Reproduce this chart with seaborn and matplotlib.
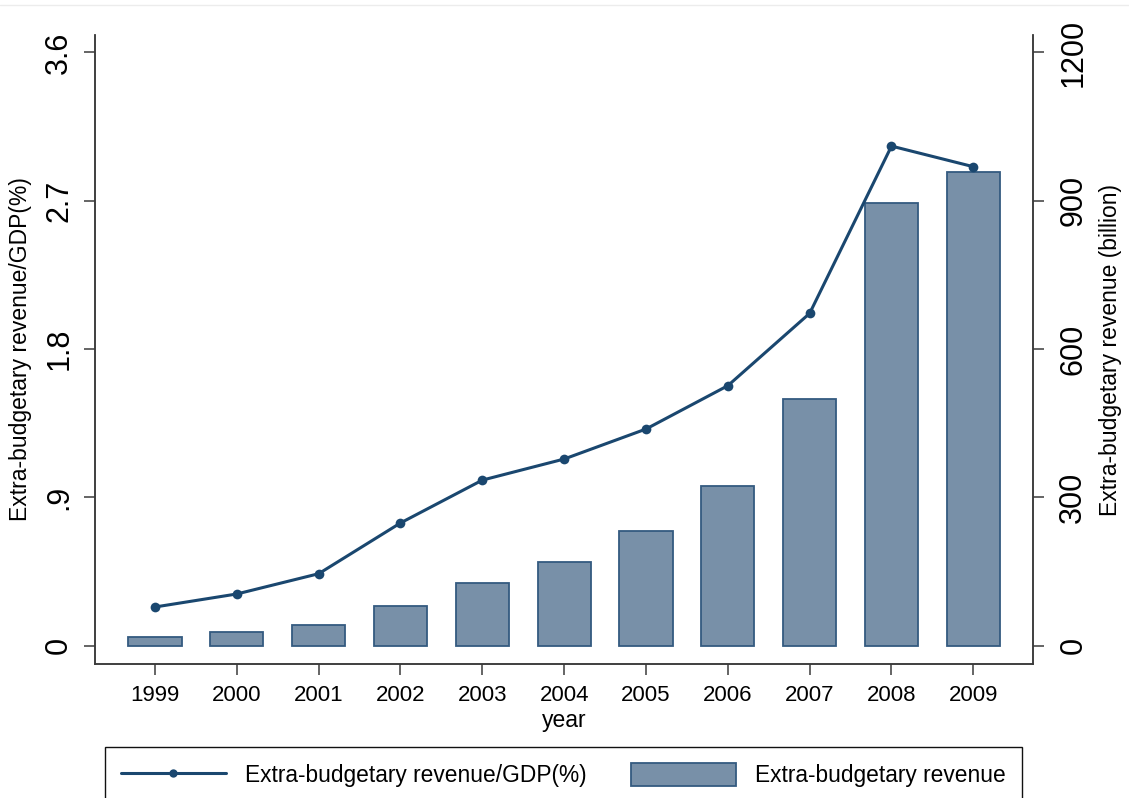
import matplotlib
matplotlib.use("Agg")
import matplotlib.pyplot as plt
from matplotlib.lines import Line2D
from matplotlib.patches import Patch
import numpy as np
import pandas as pd
import seaborn as sns

# Extra-budgetary revenue, 1999-2009
years = [1999, 2000, 2001, 2002, 2003, 2004, 2005, 2006, 2007, 2008, 2009]
ratio_gdp = [0.235, 0.314, 0.437, 0.745, 1.005, 1.133, 1.315, 1.578, 2.017, 3.032, 2.907]
revenue_billion = [18, 28, 41, 80, 126, 169, 232, 324, 499, 895, 958]

left_ticks = [0, 0.9, 1.8, 2.7, 3.6]
left_tick_labels = ["0", ".9", "1.8", "2.7", "3.6"]
right_ticks = [0, 300, 600, 900, 1200]
right_tick_labels = ["0", "300", "600", "900", "1200"]

label_ratio = "Extra-budgetary revenue/GDP(%)"
label_revenue = "Extra-budgetary revenue"
label_right_axis = "Extra-budgetary revenue (billion)"

df = pd.DataFrame({"year": years, "ratio": ratio_gdp, "revenue": revenue_billion})

sns.set_theme(style="white")
plt.rcParams["font.family"] = ["Liberation Sans", "DejaVu Sans"]
plt.rcParams["text.color"] = "black"
plt.rcParams["axes.labelcolor"] = "black"
plt.rcParams["xtick.labelcolor"] = "black"
plt.rcParams["ytick.labelcolor"] = "black"

LINE_C = "#1a476f"
BAR_FILL = "#7890a8"
BAR_EDGE = "#345a80"
SPINE_C = "#3a3a3a"

fig = plt.figure(figsize=(11.29, 7.98), dpi=100)
ax = fig.add_axes([0.08415, 0.1679, 0.8311, 0.7882])
ax2 = ax.twinx()

# bars on the right-hand scale
sns.barplot(data=df, x="year", y="revenue", native_scale=True, width=0.65,
            color=BAR_FILL, edgecolor=BAR_EDGE, linewidth=1.3, saturation=1,
            errorbar=None, ax=ax2)

# ratio line on the left-hand scale
sns.lineplot(data=df, x="year", y="ratio", color=LINE_C, lw=2.2, marker="o",
             markersize=7, markeredgewidth=0, ax=ax)

ax.set_zorder(ax2.get_zorder() + 1)
ax.patch.set_visible(False)

ylo, yhi = -0.111, 3.706
ax.set_ylim(ylo, yhi)
ax2.set_ylim(ylo * 1200 / 3.6, yhi * 1200 / 3.6)
ax.set_xlim(1999 - 0.733, 2009 + 0.733)
ax2.set_xlim(1999 - 0.733, 2009 + 0.733)

ax.set_xticks(years, labels=[str(y) for y in years])
ax.set_yticks(left_ticks, labels=left_tick_labels)
ax2.set_yticks(right_ticks, labels=right_tick_labels)

for a in (ax, ax2):
    a.grid(False)
    a.spines["top"].set_visible(False)
    for s in ("left", "right", "bottom"):
        a.spines[s].set_color(SPINE_C)
        a.spines[s].set_linewidth(1.1)

ax.tick_params(axis="x", direction="out", length=8, width=1.1, color=SPINE_C,
               labelsize=16, pad=7, bottom=True, labelcolor="black")
ax.tick_params(axis="y", direction="out", length=8, width=1.1, color=SPINE_C,
               labelsize=22, pad=7, left=True, labelcolor="black")
ax2.tick_params(axis="y", direction="out", length=8, width=1.1, color=SPINE_C,
                labelsize=22, pad=10, right=True, labelcolor="black")
ax2.tick_params(axis="x", bottom=False, labelbottom=False)

for t in ax.get_yticklabels():
    t.set_rotation(90)
    t.set_va("center")
for t in ax2.get_yticklabels():
    t.set_rotation(90)
    t.set_va("center")

ax.set_xlabel("year", fontsize=16.5, labelpad=2)
ax.set_ylabel(label_ratio, fontsize=16.5, labelpad=9)
ax2.set_ylabel(label_right_axis, fontsize=16.5, labelpad=8)

handles = [
    Line2D([], [], color=LINE_C, lw=2.2, marker="o", markersize=6, markeredgewidth=0),
    Patch(facecolor=BAR_FILL, edgecolor=BAR_EDGE, linewidth=1.3),
]
top = 1 - 747 / 798
x0 = 105 / 1129
w = (1022 - 105) / 1129
leg = fig.legend(handles, [label_ratio, label_revenue], loc="upper left",
                 bbox_to_anchor=(x0, top - 0.1, w, 0.1), mode="expand", ncol=2,
                 fontsize=16.4, frameon=True, fancybox=False, framealpha=1,
                 edgecolor="#111111", borderpad=0.7, handlelength=4.6,
                 handleheight=1.2, handletextpad=0.85, columnspacing=1.0,
                 borderaxespad=0)
leg.get_frame().set_linewidth(1.0)

# thin page border line along the top
fig.add_artist(Line2D([0, 1], [1 - 5 / 798, 1 - 5 / 798], transform=fig.transFigure,
                      color="#ececec", lw=1.0))

fig.savefig("out.png", dpi=100)
